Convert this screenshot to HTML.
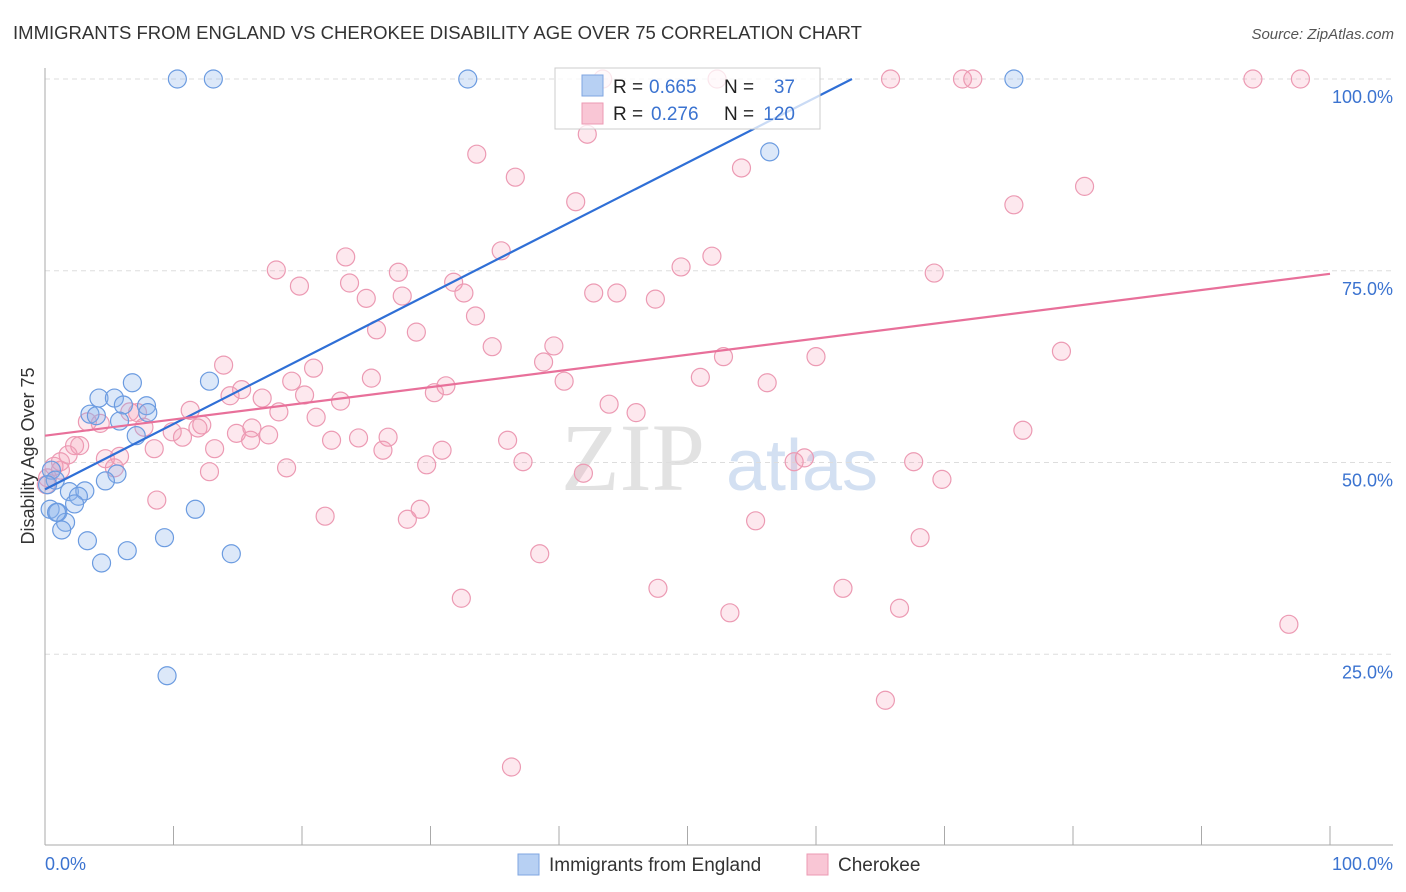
<!DOCTYPE html>
<html><head><meta charset="utf-8"><style>
body{margin:0;background:#fff;font-family:"Liberation Sans",sans-serif;}
svg{display:block}
</style></head><body>
<svg id="chart" width="1406" height="892" xmlns="http://www.w3.org/2000/svg">
<text x="13" y="39" font-size="18" fill="#333" textLength="849" lengthAdjust="spacingAndGlyphs">IMMIGRANTS FROM ENGLAND VS CHEROKEE DISABILITY AGE OVER 75 CORRELATION CHART</text>
<text x="1394" y="39" font-size="15" fill="#555" font-style="italic" text-anchor="end">Source: ZipAtlas.com</text>
<g>
<text x="633" y="490" font-size="96" fill="#e2e2e2" font-family="Liberation Serif,serif" text-anchor="middle">ZIP</text>
<text x="802" y="490" font-size="72" fill="#d3e0f2" text-anchor="middle">atlas</text>
</g>
<g id="grid"></g>
<g id="axes"></g>
<g id="marks"></g>
<g id="trend"></g>
<text transform="translate(34,456) rotate(-90)" font-size="18" fill="#333" text-anchor="middle">Disability Age Over 75</text>
<text x="45" y="870" font-size="18" fill="#3b73d0">0.0%</text>
<text x="1393" y="870" font-size="18" fill="#3b73d0" text-anchor="end">100.0%</text>
<g>
<rect x="555" y="68" width="265" height="61" fill="rgba(255,255,255,0.75)" stroke="#ccc"/>
<rect x="582" y="75" width="21" height="21" fill="#b7d0f3" stroke="#7fa6e0"/>
<rect x="582" y="103" width="21" height="21" fill="#f9c6d5" stroke="#ec9ab3"/>
<text x="613" y="93" font-size="19" fill="#222">R =</text>
<text x="649" y="93" font-size="19" fill="#3b73d0">0.665</text>
<text x="724" y="93" font-size="19" fill="#222">N =</text>
<text x="795" y="93" font-size="19" fill="#3b73d0" text-anchor="end">37</text>
<text x="613" y="120" font-size="19" fill="#222">R =</text>
<text x="651" y="120" font-size="19" fill="#3b73d0">0.276</text>
<text x="724" y="120" font-size="19" fill="#222">N =</text>
<text x="795" y="120" font-size="19" fill="#3b73d0" text-anchor="end">120</text>
</g>
<g>
<rect x="518" y="854" width="21" height="21" fill="#b7d0f3" stroke="#7fa6e0"/>
<text x="549" y="871" font-size="19" fill="#333">Immigrants from England</text>
<rect x="807" y="854" width="21" height="21" fill="#f9c6d5" stroke="#ec9ab3"/>
<text x="838" y="871" font-size="19" fill="#333">Cherokee</text>
</g>
</svg>
<script>
const blueX=[10.3,13.1,32.9,75.4,56.4,12.8,6.8,4.2,5.4,6.1,7.9,3.5,4.0,8.0,5.8,7.1,5.6,4.7,1.9,3.1,2.6,2.3,0.4,1.0,1.6,1.3,11.7,9.3,3.3,6.4,4.4,14.5,9.5,0.5,0.8,0.2,0.9];
const blueY=[100,100,100,100,90.5,60.6,60.4,58.4,58.4,57.5,57.4,56.3,56.1,56.5,55.4,53.5,48.5,47.6,46.2,46.3,45.6,44.6,43.9,43.5,42.2,41.2,43.9,40.2,39.8,38.5,36.9,38.1,22.2,49.0,47.7,47.1,43.5];
const pinkPx=[[603,79],[717,79],[890,79],[963,79],[973,79],[1253,79],[1300,79],[587,134],[477,154],[742,168],[515,177],[576,202],[1084,186],[1014,205],[501,251],[346,257],[712,256],[276,270],[398,272],[300,286],[350,283],[454,282],[681,267],[934,273],[594,293],[617,293],[366,298],[402,296],[464,293],[655,299],[476,316],[376,330],[416,332],[224,365],[313,368],[492,347],[554,346],[723,357],[816,357],[1061,351],[292,381],[372,378],[543,362],[700,377],[767,383],[446,386],[242,390],[230,396],[434,393],[564,381],[304,395],[262,398],[340,401],[609,404],[190,410],[279,412],[316,417],[636,413],[130,412],[138,413],[88,422],[100,423],[202,425],[144,427],[198,428],[172,432],[182,437],[236,433],[268,435],[252,428],[250,440],[331,440],[358,438],[388,437],[383,450],[214,449],[154,449],[74,446],[80,446],[68,455],[60,462],[54,466],[105,459],[120,456],[114,468],[507,440],[442,450],[286,468],[427,465],[523,462],[794,462],[804,458],[914,462],[1023,430],[942,479],[583,473],[157,500],[210,472],[325,516],[408,519],[420,509],[756,521],[920,538],[540,554],[658,588],[461,598],[843,588],[730,613],[900,608],[1289,624],[885,700],[512,767],[46,485],[48,478],[60,470]];
// pink values (percent)
const pinkX=pinkPx.map(p=>+((p[0]-45)/12.85).toFixed(1));
const pinkY=pinkPx.map(p=>+((846-p[1])/7.67).toFixed(1));
const yTicks=[100,75,50,25];
const yTickLabels=["100.0%","75.0%","50.0%","25.0%"];
const xTicks=[0,10,20,30,40,50,60,70,80,90,100];
const blueTrend=[[0,46.5],[62.8,100]];
const pinkTrend=[[0,53.5],[100,74.6]];

const NS="http://www.w3.org/2000/svg";
const X0=45,X1=1330,Y0=846,Y100=79;
const sx=v=>X0+(X1-X0)*v/100;
const sy=v=>Y0-(Y0-Y100)*v/100;
function mk(tag,attrs,parent){const e=document.createElementNS(NS,tag);for(const k in attrs)e.setAttribute(k,attrs[k]);parent.appendChild(e);return e;}
const grid=document.getElementById('grid'),axes=document.getElementById('axes'),marks=document.getElementById('marks'),trend=document.getElementById('trend');
yTicks.forEach((t,i)=>{
  const l=mk('line',{x1:45,x2:1393,y1:sy(t),y2:sy(t),stroke:'#ddd','stroke-dasharray':'5,4'},grid);
  
  
  const tx=mk('text',{x:1393,y:sy(t)+24,'font-size':18,fill:'#3b73d0','text-anchor':'end'},grid);
  tx.textContent=yTickLabels[i];
  
  
});
let a=mk('line',{x1:45,x2:45,y1:68,y2:845,stroke:'#aaa'},axes);


a=mk('line',{x1:45,x2:1393,y1:845,y2:845,stroke:'#aaa'},axes);


xTicks.forEach(t=>{
  const l=mk('line',{x1:sx(t),x2:sx(t),y1:826,y2:845,stroke:'#aaa'},axes);
  
  
});
pinkX.forEach((v,i)=>{
  const c=mk('circle',{cx:sx(v),cy:sy(pinkY[i]),r:9,fill:'rgba(244,150,178,0.22)',stroke:'#ec9ab3','stroke-width':1.2},marks);
  
  
});
blueX.forEach((v,i)=>{
  const c=mk('circle',{cx:sx(v),cy:sy(blueY[i]),r:9,fill:'rgba(140,180,235,0.3)',stroke:'#6b9be0','stroke-width':1.2},marks);
  
  
});
let t=mk('line',{x1:sx(blueTrend[0][0]),y1:sy(blueTrend[0][1]),x2:sx(blueTrend[1][0]),y2:sy(blueTrend[1][1]),stroke:'#2f6fd6','stroke-width':2.2},trend);


t=mk('line',{x1:sx(pinkTrend[0][0]),y1:sy(pinkTrend[0][1]),x2:sx(pinkTrend[1][0]),y2:sy(pinkTrend[1][1]),stroke:'#e8709a','stroke-width':2.2},trend);


</script>
</body></html>
